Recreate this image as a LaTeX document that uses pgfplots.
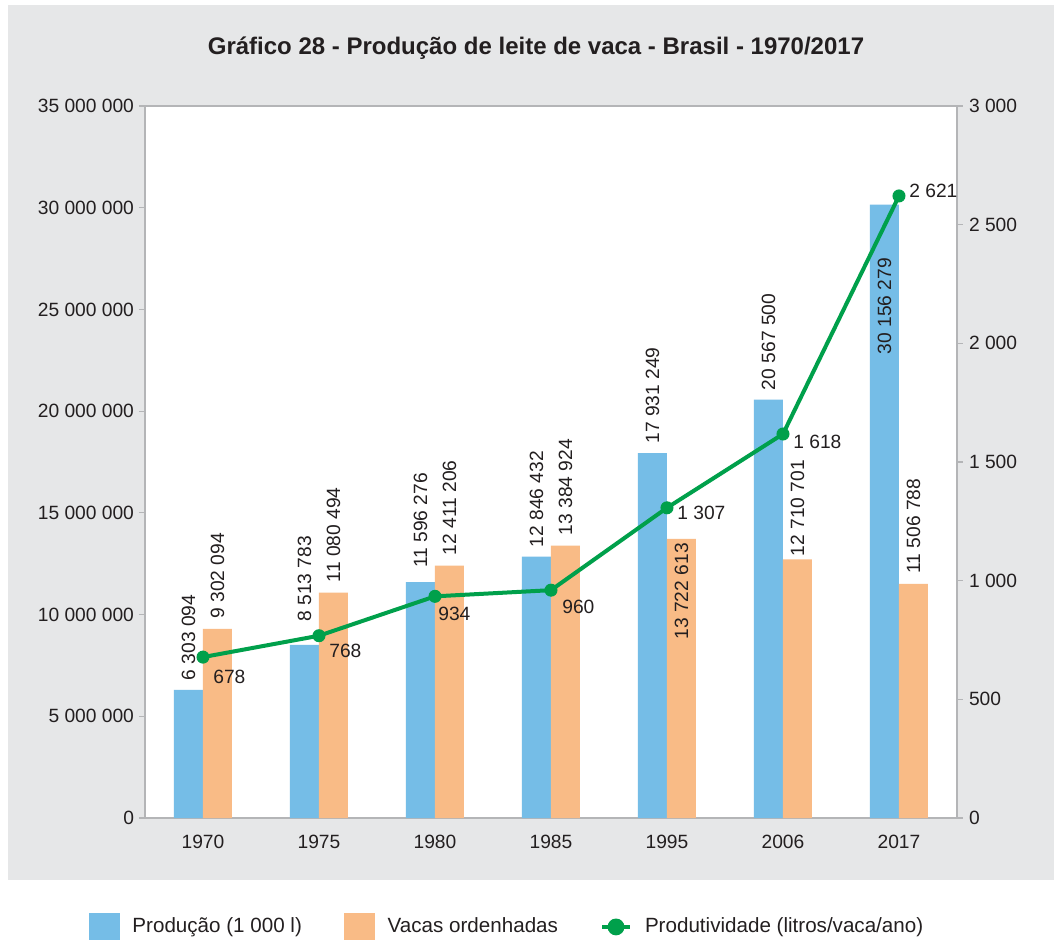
\documentclass[border=0pt]{standalone}
\usepackage{fontspec}
\setmainfont{Liberation Sans}
\usepackage{pgfplots}
\pgfplotsset{compat=1.18}
\definecolor{bgG}{HTML}{E6E7E8}
\definecolor{blueB}{HTML}{75BDE7}
\definecolor{orangeB}{HTML}{F9BB86}
\definecolor{greenL}{HTML}{00A04B}
\definecolor{axisG}{HTML}{B4B5B7}
\definecolor{txt}{HTML}{231F20}

\pgfplotsset{
  blbl/.style n args={3}{draw=none, fill=none, forget plot, bar shift=#1,
    point meta=explicit symbolic, nodes near coords,
    every node near coord/.append style={yshift=#2, rotate=90, anchor=#3, inner sep=0pt,
      font=\fontsize{9.6}{11}\selectfont, text=txt}},
  lbl/.style 2 args={draw=none, mark=none, forget plot,
    point meta=explicit symbolic, nodes near coords,
    every node near coord/.append style={anchor=west, inner sep=0pt, xshift=#1, yshift=#2,
      font=\fontsize{9.6}{11}\selectfont, text=txt}},
}

\begin{document}
\begin{tikzpicture}[font=\fontsize{9.5}{11}\selectfont, text=txt]
\useasboundingbox (-72.5pt,-60.5pt) rectangle (454.5pt,409pt);
\fill[bgG] (-68.5pt,-31pt) rectangle (454.5pt,406.5pt);
\node[font=\bfseries\fontsize{12}{14}\selectfont, text=txt] at (195.5pt,385pt) {Gráfico 28 - Produção de leite de vaca - Brasil - 1970/2017};

\begin{axis}[
  at={(0pt,0pt)}, anchor=south west,
  width=406pt, height=356pt, scale only axis,
  xmin=-0.5, xmax=6.5, ymin=0, ymax=35000000,
  xtick={0,1,2,3,4,5,6},
  xticklabels={1970,1975,1980,1985,1995,2006,2017},
  ytick={0,5000000,10000000,15000000,20000000,25000000,30000000,35000000},
  yticklabels={0,5 000 000,10 000 000,15 000 000,20 000 000,25 000 000,30 000 000,35 000 000},
  scaled y ticks=false,
  ytick pos=left,
  major x tick style={draw=none},
  tick align=outside, major tick length=3pt,
  tick style={axisG, line width=0.6pt},
  axis line style={axisG, line width=0.6pt},
  axis background/.style={fill=white},
  tick label style={font=\fontsize{9.6}{11}\selectfont, text=txt},
  xticklabel style={yshift=-2pt},
  yticklabel style={xshift=1pt},
  ybar, bar width=14.5pt,
  clip=false,
]
% Producao (1 000 l)
\addplot[fill=blueB, draw=none, bar shift=-7.25pt]
  coordinates {(0,6303094) (1,8513783) (2,11596276) (3,12846432) (4,17931249) (5,20567500) (6,30156279)};
% Vacas ordenhadas
\addplot[fill=orangeB, draw=none, bar shift=7.25pt]
  coordinates {(0,9302094) (1,11080494) (2,12411206) (3,13384924) (4,13722613) (5,12710701) (6,11506788)};
% value labels
\addplot[blbl={-7.25pt}{4.6pt}{west}] coordinates {(0,6303094)[6 303 094] (3,12846432)[12 846 432] (4,17931249)[17 931 249] (5,20567500)[20 567 500]};
\addplot[blbl={-7.25pt}{11.5pt}{west}] coordinates {(1,8513783)[8 513 783]};
\addplot[blbl={-7.25pt}{7pt}{west}] coordinates {(2,11596276)[11 596 276]};
\addplot[blbl={-7.25pt}{-26.5pt}{east}] coordinates {(6,30156279)[30 156 279]};
\addplot[blbl={7.25pt}{5pt}{west}] coordinates {(0,9302094)[9 302 094] (1,11080494)[11 080 494] (2,12411206)[12 411 206] (3,13384924)[13 384 924] (6,11506788)[11 506 788]};
\addplot[blbl={7.25pt}{-2pt}{east}] coordinates {(4,13722613)[13 722 613]};
\addplot[blbl={7.25pt}{1.5pt}{west}] coordinates {(5,12710701)[12 710 701]};
\end{axis}

\begin{axis}[
  at={(0pt,0pt)}, anchor=south west,
  width=406pt, height=356pt, scale only axis,
  xmin=-0.5, xmax=6.5, ymin=0, ymax=3000,
  hide x axis,
  axis y line*=right,
  ytick={0,500,1000,1500,2000,2500,3000},
  yticklabels={0,500,1 000,1 500,2 000,2 500,3 000},
  tick align=outside, major tick length=3pt,
  tick style={axisG, line width=0.6pt},
  axis line style={axisG, line width=0.6pt},
  tick label style={font=\fontsize{9.6}{11}\selectfont, text=txt},
  yticklabel style={xshift=-0.5pt},
  clip=false,
  legend style={at={(0.447,-0.153)}, anchor=center, draw=none, fill=none,
    font=\fontsize{10.3}{12}\selectfont, text=txt,
    /tikz/every even column/.append style={column sep=19pt},
    /tikz/every odd column/.append style={column sep=4.5pt}},
  legend columns=3, legend cell align=left,
]
\addlegendimage{legend image code/.code={\fill[blueB] (0pt,-7pt) rectangle (15pt,7pt);}}
\addlegendentry{Produção (1 000 l)}
\addlegendimage{legend image code/.code={\fill[orangeB] (0pt,-7pt) rectangle (15pt,7pt);}}
\addlegendentry{Vacas ordenhadas}
\addplot[greenL, line width=2pt, mark=*, mark size=3pt, mark options={fill=greenL, draw=greenL, line width=0.5pt},
  legend image code/.code={\draw[greenL, line width=2pt] (0pt,0pt) -- (14pt,0pt); \fill[greenL] (7pt,0pt) circle (3.2pt);}]
  coordinates {(0,678) (1,768) (2,934) (3,960) (4,1307) (5,1618) (6,2621)};
\addlegendentry{Produtividade (litros/vaca/ano)}
\addplot[lbl={5pt}{-9.75pt}] coordinates {(0,678)[678]};
\addplot[lbl={5pt}{-7.75pt}] coordinates {(1,768)[768]};
\addplot[lbl={1.5pt}{-9pt}] coordinates {(2,934)[934]};
\addplot[lbl={5.5pt}{-8.5pt}] coordinates {(3,960)[960]};
\addplot[lbl={5pt}{-2.75pt}] coordinates {(4,1307)[1 307]};
\addplot[lbl={5pt}{-4pt}] coordinates {(5,1618)[1 618]};
\addplot[lbl={5pt}{2.75pt}] coordinates {(6,2621)[2 621]};
\end{axis}
\end{tikzpicture}
\end{document}
